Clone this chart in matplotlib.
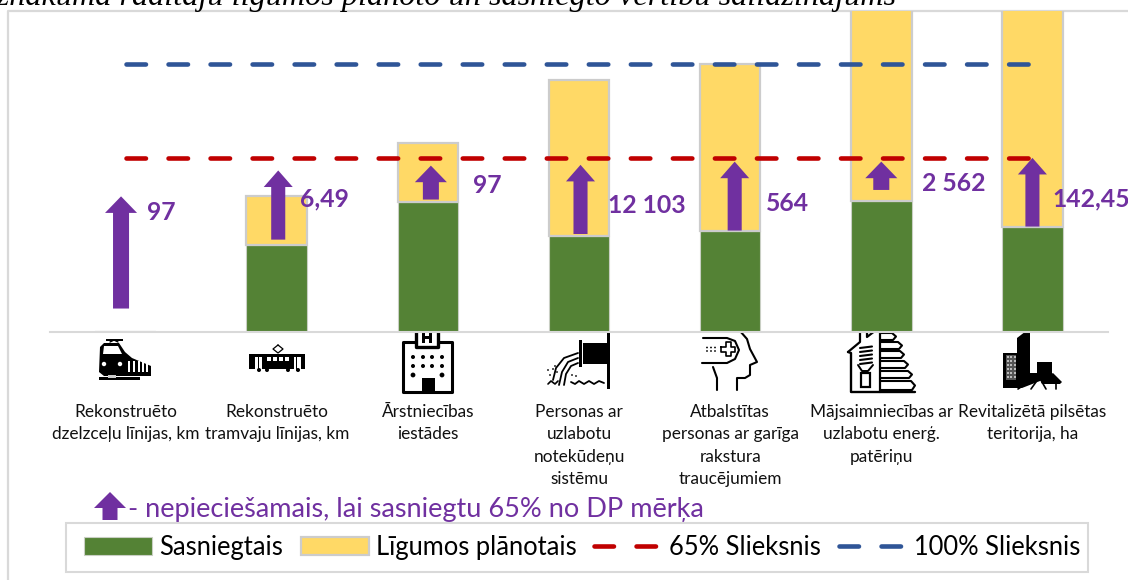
import matplotlib
matplotlib.use("Agg")
import matplotlib.pyplot as plt
from matplotlib.patches import FancyArrow, Rectangle, Polygon, Circle

plt.rcParams['font.family'] = ['Lato', 'DejaVu Sans']

W, H = 1128, 580

kategorijas = ["Rekonstruēto\ndzelzceļu līnijas, km", "Rekonstruēto\ntramvaju līnijas, km",
               "Ārstniecības\niestādes", "Personas ar\nuzlabotu\nnotekūdeņu\nsistēmu",
               "Atbalstītas\npersonas ar garīga\nrakstura\ntraucējumiem",
               "Mājsaimniecības ar\nuzlabotu enerģ.\npatēriņu", "Revitalizētā pilsētas\nteritorija, ha"]
# vertibas % no merka, nolasitas no attela
sasniegtais = [0, 32.4, 48.5, 35.8, 37.6, 48.9, 39.1]
planotais = [0, 18.4, 22.0, 58.2, 62.4, 85.0, 90.0]
slieksnis_65 = [65, 65, 65, 65, 65, 65, 65]
slieksnis_100 = [100, 100, 100, 100, 100, 100, 100]
bultu_sakums = [8.6, 34.4, 49.4, 36.5, 37.8, 53.0, 39.3]
bultu_gals = [50.6, 60.3, 62.1, 62.4, 63.6, 63.6, 65.0]
bultu_teksti = ["97", "6,49", "97", "12 103", "564", "2 562", "142,45"]

bultu_x = [-0.03, 0.01, 0.02, 0.01, 0.03, 0.0, 0.0]
teksta_x = [0.14, 0.155, 0.30, 0.19, 0.24, 0.27, 0.13]
teksta_y = [44.5, 49.5, 54.5, 47.3, 47.9, 55.4, 49.7]

ZALS = "#548235"
DZELTENS = "#FFD966"
VIOLETS = "#7030A0"
SARKANS = "#C00000"
ZILS = "#2F5597"
PELEKS = "#D9D9D9"

fig = plt.figure(figsize=(W / 100, H / 100), dpi=100)

# fona ass pikselos - rametis, virsraksts un ikonas
bg = fig.add_axes([0, 0, 1, 1])
bg.set_xlim(0, W)
bg.set_ylim(H, 0)
bg.axis('off')
bg.plot([8, 8, W], [H, 11, 11], color=PELEKS, lw=1.6)
bg.text(-14, 4.5, "Iznākuma rādītāju līgumos plānoto un sasniegto vērtību salīdzinājums",
        family="Liberation Serif", style="italic", fontsize=23.2, color="black", clip_on=True)

ax = fig.add_axes([50 / W, 1 - 331.5 / H, 1058 / W, 320.5 / H])
ax.patch.set_alpha(0)
x = list(range(len(kategorijas)))
ax.bar(x, sasniegtais, width=0.4, color=ZALS, edgecolor="#C9CFC4", linewidth=0.8, label="Sasniegtais")
ax.bar(x, planotais, width=0.4, bottom=sasniegtais, color=DZELTENS, edgecolor="#CCCCCC", linewidth=1.6,
       label="Līgumos plānotais")
ax.plot(x, slieksnis_65, color=SARKANS, lw=3.3, ls=(0, (4.25, 4.92)), dash_capstyle='round',
        label="65% Slieksnis")
ax.plot(x, slieksnis_100, color=ZILS, lw=3.3, ls=(0, (4.25, 4.92)), dash_capstyle='round',
        label="100% Slieksnis")
for i in x:
    liela = i in (0, 2, 5)
    ax.add_patch(FancyArrow(i + bultu_x[i], bultu_sakums[i], 0, bultu_gals[i] - bultu_sakums[i],
                            width=0.106 if liela else 0.093, head_width=0.212 if liela else 0.192,
                            head_length=6.2, length_includes_head=True, color=VIOLETS, lw=0, zorder=5))
    ax.text(i + teksta_x[i], teksta_y[i], bultu_teksti[i], color=VIOLETS, fontsize=17.8,
            fontweight='bold', va='center', ha='left', zorder=6, clip_on=False)
ax.set_xlim(-0.5, 6.5)
ax.set_ylim(0, 120)
ax.set_yticks([])
ax.set_xticks(x)
ax.set_xticklabels(kategorijas, fontsize=12.4, linespacing=1.5, color="#111111")
ax.tick_params(axis='x', length=0, pad=52)
for s in ['top', 'left', 'right']:
    ax.spines[s].set_visible(False)
ax.spines['bottom'].set_color(PELEKS)
ax.spines['bottom'].set_linewidth(1.5)


def r(a, b, c, d, col='black'):
    bg.add_patch(Rectangle((a, b), c - a, d - b, facecolor=col, edgecolor='none', zorder=7))


def poly(pts, col='black'):
    bg.add_patch(Polygon(pts, closed=True, facecolor=col, edgecolor='none', zorder=7))


def lin(pts, lw=1.5):
    bg.plot([p[0] for p in pts], [p[1] for p in pts], color='black', lw=lw, zorder=8,
            solid_capstyle='round', solid_joinstyle='round')


def dot(a, b, rad, col='black'):
    bg.add_patch(Circle((a, b), rad, facecolor=col, edgecolor='none', zorder=8))


# vilciens
poly([(100, 347), (104, 343), (119, 343), (125, 352), (132, 358), (151, 366), (151, 376), (104, 376), (99, 372)])
r(106, 339, 123, 340.5)
lin([(110, 342), (114, 340), (118, 342)], 1)
poly([(104, 346), (118, 346), (122, 354), (103, 354)], 'white')
dot(104, 364, 2.2, 'white')
dot(120, 364, 2.2, 'white')
for px in (128, 133, 138, 142, 146):
    r(px, 361, px + 2, 372, 'white')
r(99, 377, 140, 379.5)
r(108, 375, 116, 378, '#cccccc')
# tramvajs
r(249, 354, 305, 369)
for a, b in ((255, 262), (294, 301)):
    r(a, 357, b, 370.5, 'white')
for a in (267, 273, 279, 285):
    r(a, 357, a + 4, 361, 'white')
for px in (258, 296):
    r(px, 357, px + 1.3, 370.5)
for px in (259, 267, 288, 298):
    dot(px, 370, 2)
lin([(278, 345), (283, 349), (278, 353), (273, 349), (278, 345)], 0.9)
# slimnica
bg.add_patch(Rectangle((403, 342), 49, 50, facecolor='white', edgecolor='black', lw=2.2, zorder=7, joinstyle='round'))
bg.add_patch(Rectangle((416, 327), 22, 20, facecolor='white', edgecolor='black', lw=2.4, zorder=7, joinstyle='round'))
r(422, 331, 425, 343)
r(429, 331, 432, 343)
r(424, 335.5, 430, 338.5)
for py in (357, 366):
    for px in (413, 423, 432, 442):
        dot(px, py, 2)
dot(413, 375, 2.4)
dot(442, 375, 2.4)
r(422, 378, 435, 391)
# notekudeni
r(583, 343, 608, 364)
r(607, 330, 610, 389)
r(579, 340, 582, 367)
lin([(578, 358), (568, 362), (562, 372), (559, 385)], 1.3)
lin([(578, 363), (571, 366), (566, 374), (564, 385)], 1.3)
lin([(578, 353), (564, 358), (556, 368), (553, 380)], 1.3)
for a, b in ((548, 370), (553, 369), (557, 372), (550, 375), (572, 375), (576, 376), (555, 366)):
    dot(a, b, 0.9)
lin([(548, 384), (551, 381), (555, 384), (558, 381)], 1.2)
lin([(571, 382), (575, 384), (579, 381), (584, 384), (589, 381), (594, 384), (599, 381), (604, 383)], 1.3)
# galva
lin([(720, 332), (730, 328.5), (740, 331), (747, 339), (750, 349), (757, 362), (750, 365), (750, 375),
     (745, 378), (737, 378), (737, 390)], 1.5)
lin([(703, 338), (727, 338), (735, 341), (739, 350), (735, 359), (727, 363), (702, 363)], 1.5)
lin([(713, 367), (717, 378), (717, 390)], 1.5)
lin([(721, 346.5), (726, 346.5), (726, 342), (731, 342), (731, 346.5), (735, 346.5), (735, 351.5),
     (731, 351.5), (731, 356), (726, 356), (726, 351.5), (721, 351.5), (721, 346.5)], 1.2)
for px in (707, 711, 715):
    dot(px, 347.5, 0.9)
    dot(px, 351, 0.9)
# maja
lin([(848, 352), (860, 342), (860, 330), (867, 330), (867, 337), (880, 327), (880, 392)], 1.6)
lin([(848, 352), (851, 353), (851, 392), (915, 392)], 1.7)
for b1, b2, xe in ((333, 340, 896), (342, 349, 902), (351, 358, 904), (361, 368, 908), (371, 378, 912), (381, 390, 915)):
    lin([(880, b1), (xe - 4, b1), (xe, (b1 + b2) / 2), (xe - 3, b2), (880, b2)], 1.5)
for py in (348, 352, 356, 360, 364):
    lin([(860, py), (872, py - 1.5)], 1.5)
lin([(858, 365), (862, 371), (868, 371), (873, 365)], 1.4)
bg.add_patch(Rectangle((861, 373), 9, 14, facecolor='white', edgecolor='black', lw=1.6, zorder=8))
r(861, 378, 870, 380.5)
# pilseta
poly([(1017, 338), (1030, 328), (1030, 373), (1037, 373), (1037, 362), (1052, 362), (1052, 376),
      (1040, 381), (1022, 388), (1003, 388), (1003, 353), (1017, 353)])
r(1005.5, 355, 1016, 380, '#555555')
for py in range(356, 380, 4):
    for px in (1006.5, 1010, 1013.5):
        r(px, py, px + 2, py + 2.2, '#bbbbbb')
poly([(1040, 380), (1053, 373), (1062, 382), (1060, 384), (1042, 384)])
poly([(1026, 388), (1040, 382), (1036, 388)], 'white')
lin([(1018, 389), (1030, 381)], 1.2)
lin([(1031, 389), (1036, 382)], 1.2)
lin([(1042, 382), (1046, 389)], 1.2)
lin([(1056, 384), (1056, 389)], 1.2)

# bultas apzimejums
bg.add_patch(FancyArrow(110, 520, 0, -28, width=15, head_width=32, head_length=16,
                        length_includes_head=True, color=VIOLETS, lw=0))
bg.text(128, 517, "- nepieciešamais, lai sasniegtu 65% no DP mērķa", color=VIOLETS, fontsize=19.5, va='baseline')

# leggendas rametis atseviski, lai sakristu izmers
bg.add_patch(Rectangle((66, 523), 1022, 49, facecolor='white', edgecolor=PELEKS, lw=1.5, zorder=15))
rokturi, nosaukumi = ax.get_legend_handles_labels()
seciba = [nosaukumi.index(n) for n in ("Sasniegtais", "Līgumos plānotais", "65% Slieksnis", "100% Slieksnis")]
leg = bg.legend([rokturi[j] for j in seciba], [nosaukumi[j] for j in seciba], loc='center left', ncol=4,
                bbox_to_anchor=(84 / W, 1 - 547.5 / H), borderaxespad=0, borderpad=0, frameon=False,
                fontsize=18.4, handlelength=2.66, handleheight=0.65,
                handletextpad=0.27, columnspacing=0.7)
leg.set_zorder(20)

fig.savefig("out.png", dpi=100)
